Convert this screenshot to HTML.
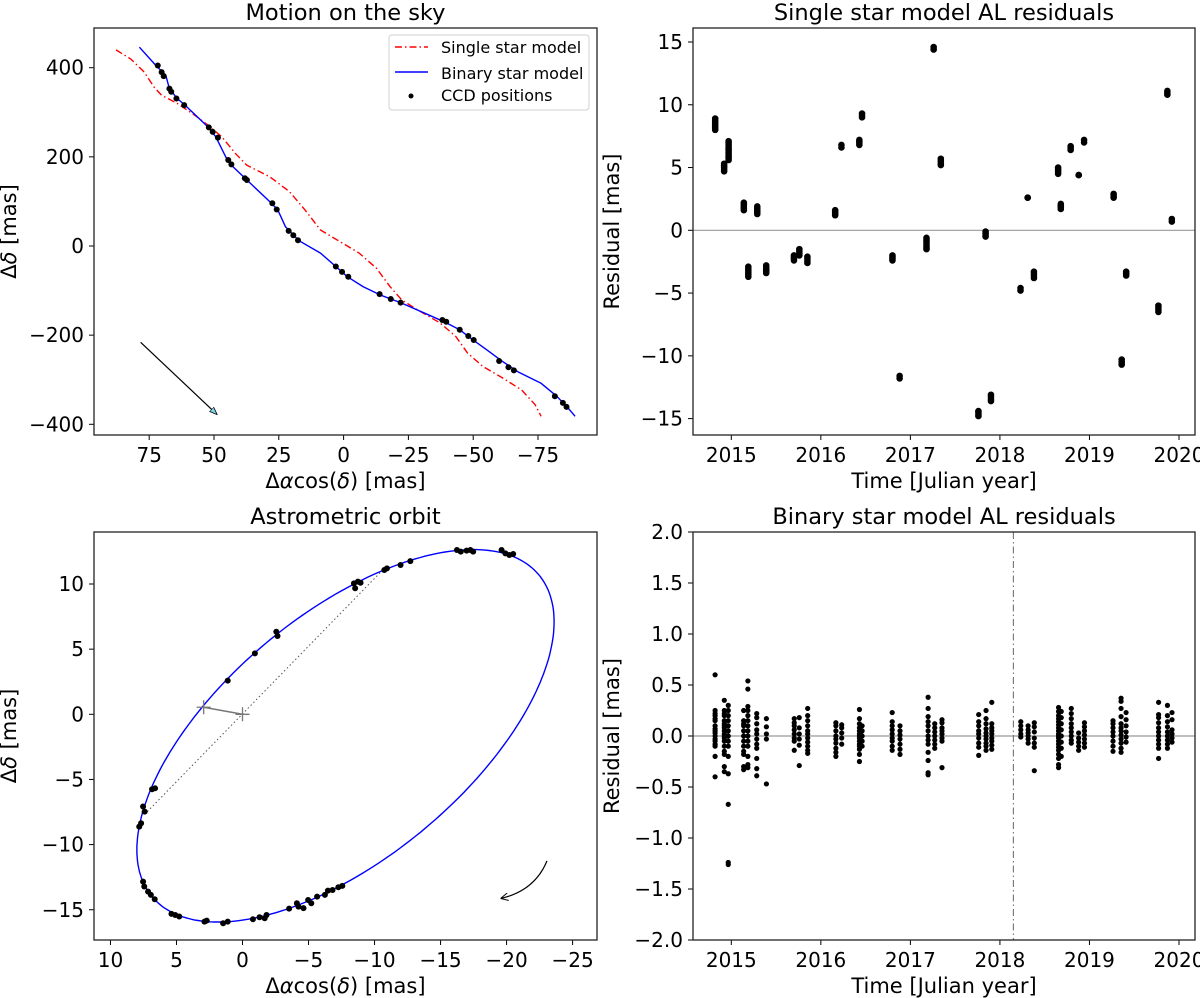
<!DOCTYPE html>
<html><head><meta charset="utf-8"><style>
html,body{margin:0;padding:0;background:#fff;}
svg{display:block;font-family:"DejaVu Sans","Liberation Sans",sans-serif;}
</style></head><body>
<svg id="fig" width="1200" height="998" viewBox="0 0 1200 998" xmlns="http://www.w3.org/2000/svg"></svg>
<script>
// ---------- Panel 1: motion on the sky (mas) ----------
const skyBinaryX=[78.8,72.4,68.6,67.2,64.2,61.2,52.3,49.3,45.5,43.3,37.3,28.4,25.4,22.4,17.2,8.9,3.0,-1.5,-7.5,-14.2,-22.4,-31.4,-38.8,-44.8,-50,-55.3,-61.3,-67.2,-76.2,-82.2,-86.7,-89.3];
const skyBinaryY=[446,405,383,353,331,316,267,245,200,181,148,99,81,43,12,-16,-46,-69,-91,-110,-128,-151,-170,-188,-211,-233,-259,-282,-308,-337,-364,-382];
const skySingleX=[87.8,82.2,76.9,73.2,70.2,64.2,58.3,52.3,47,41.8,37.3,28.4,20.9,14.9,8.9,1.5,-6.0,-12.7,-17.9,-22.4,-28.4,-37.3,-43.3,-47.8,-53.7,-61.3,-68.7,-73.9,-76.2];
const skySingleY=[440,420,390,357,338,320,297,271,245,208,181,155,122,81,36,10,-16,-50,-91,-121,-143,-173,-203,-240,-270,-296,-323,-356,-382];
const ccdX=[71.7,70.2,69.4,67.2,66.5,64.5,61.5,52.0,50.5,48.5,44.5,43.3,38.1,37.3,27.5,25.8,21.2,19.4,17.6,3.0,0.6,-1.8,-13.9,-18.2,-22.0,-38.1,-39.6,-44.8,-48.1,-50.2,-60.0,-63.6,-65.7,-81.5,-84.6,-86.0];
const ccdY=[405,390,381,353,346,331,316,266,256,243,193,183,152,148,96,82,34,24,13,-46,-58,-69,-108,-119,-127,-166,-170,-188,-202,-211,-258,-272,-279,-337,-352,-361];
const pmArrow=[78.3,-216,49,-377];
const skyXTicks=[75,50,25,0,-25,-50,-75];
const skyYTicks=[400,200,0,-200,-400];

// ---------- Panel 2: single star residuals ----------
const singleYear=[2014.82,2014.92,2014.97,2015.14,2015.19,2015.29,2015.39,2015.70,2015.76,2015.85,2016.16,2016.23,2016.43,2016.46,2016.80,2016.88,2017.18,2017.26,2017.34,2017.76,2017.84,2017.90,2018.23,2018.31,2018.38,2018.65,2018.68,2018.79,2018.88,2018.94,2019.27,2019.36,2019.41,2019.77,2019.87,2019.92];
const singleLo=[8.0,4.7,5.6,1.6,-3.7,1.3,-3.4,-2.4,-2.0,-2.6,1.2,6.6,6.8,9.0,-2.4,-11.8,-1.5,14.4,5.2,-14.8,-0.5,-13.6,-4.8,2.6,-3.8,4.5,1.7,6.4,4.4,7.0,2.6,-10.7,-3.6,-6.5,10.8,0.7];
const singleHi=[8.9,5.3,7.1,2.2,-2.9,1.9,-2.8,-2.0,-1.5,-2.1,1.6,6.8,7.2,9.3,-2.0,-11.6,-0.6,14.6,5.7,-14.4,-0.1,-13.1,-4.6,2.6,-3.3,5.0,2.1,6.7,4.4,7.2,2.9,-10.3,-3.3,-6.0,11.1,0.9];
const yearTicks=[2015,2016,2017,2018,2019,2020];
const singleYTicks=[15,10,5,0,-5,-10,-15];

// ---------- Panel 3: astrometric orbit ----------
const orbitCenter=[-7.8,-1.65];
const orbitAxisU=[15.8,-8.75];
const orbitAxisV=[0,11.3];
const orbitPtX=[-16.24,-16.53,-16.97,-17.26,-17.47,-19.62,-19.91,-20.21,-20.5,-10.74,-10.94,-11.97,-12.71,-8.44,-8.53,-8.74,-8.94,-2.56,-2.65,-0.94,1.12,6.85,6.62,7.53,7.41,7.82,7.68,7.53,7.44,7.15,6.94,6.65,5.38,5.09,4.79,2.88,2.71,1.47,1.12,-0.79,-1.29,-1.68,-1.82,-3.53,-4.12,-4.24,-4.62,-4.97,-5.21,-5.65,-6.24,-6.47,-6.82,-7.26,-7.56];
const orbitPtY=[12.61,12.48,12.56,12.61,12.48,12.61,12.35,12.23,12.30,11.07,11.20,11.46,11.76,10.05,9.67,10.18,10.10,6.34,6.01,4.68,2.58,-5.75,-5.68,-7.08,-7.47,-8.62,-8.36,-12.84,-13.22,-13.61,-13.86,-14.19,-15.32,-15.40,-15.52,-15.91,-15.83,-16.04,-15.91,-15.73,-15.58,-15.65,-15.40,-14.91,-14.50,-14.76,-14.88,-14.25,-14.50,-13.99,-13.86,-13.53,-13.48,-13.27,-13.17];
const nodeLine=[7.21,-7.47,-10.5,10.95];
const periastron=[2.94,0.54];
const orbitArrow=[-23.06,-11.25,-19.62,-14.12];
const orbitXTicks=[10,5,0,-5,-10,-15,-20,-25];
const orbitYTicks=[10,5,0,-5,-10,-15];

// ---------- Panel 4: binary residuals ----------
const binYear=[2014.819,2014.922,2014.966,2015.138,2015.185,2015.284,2015.392,2015.703,2015.759,2015.853,2016.168,2016.233,2016.431,2016.461,2016.797,2016.884,2017.198,2017.272,2017.353,2017.763,2017.845,2017.909,2018.233,2018.315,2018.384,2018.655,2018.685,2018.797,2018.879,2018.944,2019.263,2019.353,2019.409,2019.772,2019.871,2019.922];
const binVals=[
[0.6,0.25,0.22,0.2,0.17,0.15,0.1,0.07,0.05,0.03,0,-0.03,-0.05,-0.08,-0.1,-0.2,-0.4],
[0.35,0.25,0.22,0.2,0.15,0.12,0.1,0.08,0.05,0.02,0,-0.02,-0.05,-0.1,-0.15,-0.18,-0.3,-0.35],
[0.3,0.25,0.2,0.15,0.1,0.05,0,-0.05,-0.1,-0.2,-0.37,-0.67,-1.24,-1.26],
[0.25,0.15,0.12,0.1,0.05,0,-0.05,-0.1,-0.15,-0.18,-0.3,-0.33],
[0.54,0.46,0.29,0.25,0.2,0.15,0.1,0.05,0,-0.05,-0.1,-0.2,-0.28,-0.31],
[0.22,0.18,0.12,0.06,0.02,-0.03,-0.08,-0.12,-0.22,-0.32,-0.39],
[0.17,0.09,0.02,-0.03,-0.47],
[0.17,0.13,0.1,0.06,0.02,-0.02,-0.05,-0.14],
[0.18,0.08,0.02,-0.03,-0.09,-0.29],
[0.27,0.2,0.15,0.1,0.05,0.02,-0.02,-0.06,-0.1,-0.14,-0.17],
[0.13,0.1,0.05,0,-0.03,-0.07,-0.12,-0.16,-0.2],
[0.11,0.08,0.03,-0.02,-0.08],
[0.26,0.17,0.12,0.08,0.05,0.02,0,-0.02,-0.05,-0.08,-0.1,-0.13,-0.18,-0.25],
[0.1,0.05,0,-0.05,-0.1],
[0.23,0.14,0.1,0.06,0.02,-0.02,-0.05,-0.1,-0.14],
[0.1,0.05,0.01,-0.03,-0.08,-0.13,-0.18],
[0.38,0.27,0.19,0.14,0.1,0.05,0,-0.04,-0.08,-0.16,-0.24,-0.36,-0.38],
[0.12,0.08,0.04,0,-0.04,-0.08,-0.12],
[0.16,0.13,0.08,0.05,0.02,-0.02,-0.05,-0.31],
[0.21,0.14,0.1,0.05,0.02,-0.02,-0.07,-0.11,-0.19],
[0.25,0.17,0.12,0.07,0.03,0,-0.03,-0.07,-0.1,-0.14],
[0.33,0.12,0.08,0.05,0.02,-0.02,-0.05,-0.09,-0.13],
[0.14,0.1,0.06,0.02,-0.01],
[0.1,0.06,0.03,0,-0.03,-0.07],
[0.13,0.09,0.04,-0.02,-0.07,-0.11,-0.34],
[0.28,0.24,0.2,0.17,0.14,0.11,0.08,0.05,0.02,0,-0.02,-0.05,-0.08,-0.11,-0.14,-0.18,-0.22,-0.28,-0.31],
[0.24,0.18,0.12,0.06,0,-0.06,-0.12,-0.2],
[0.27,0.22,0.17,0.12,0.08,0.04,0,-0.04,-0.07],
[0.03,-0.02,-0.06,-0.1,-0.14],
[0.13,0.09,0.05,0.01,-0.03,-0.07,-0.11],
[0.15,0.12,0.08,0.04,0,-0.05,-0.1,-0.15],
[0.37,0.34,0.27,0.19,0.12,0.08,0.05,0.01,-0.03,-0.07,-0.12,-0.16],
[0.23,0.16,0.1,0.04,-0.01,-0.06],
[0.33,0.21,0.18,0.13,0.08,0.04,0,-0.04,-0.08,-0.12,-0.22],
[0.3,0.2,0.14,0.09,0.04,0,-0.04,-0.08,-0.12],
[0.23,0.16,0.06,0.02,-0.02,-0.06]];
const splitYear=[2018.15];
const binYTicks=[2.0,1.5,1.0,0.5,0.0,-0.5,-1.0,-1.5,-2.0];

// ---------- drawing ----------
const NS="http://www.w3.org/2000/svg";
const svg=document.getElementById('fig');
function mk(tag,attrs,parent){const e=document.createElementNS(NS,tag);for(const k in attrs)e.setAttribute(k,attrs[k]);(parent||svg).appendChild(e);return e;}
function lin(d0,d1,p0,p1){return v=>p0+(v-d0)*(p1-p0)/(d1-d0);}

const P1={l:94,r:597,t:28,b:435,x:lin(0,-75,343.6,538),y:lin(0,400,246,67.7)};
const P2={l:693,r:1195,t:28,b:435,x:lin(2015,2020,731.3,1179),y:lin(0,15,230.3,42)};
const P3={l:94,r:597,t:532,b:940,x:lin(0,-25,242.5,572.6),y:lin(0,10,714.3,584)};
const P4={l:693,r:1195,t:532,b:940,x:lin(2015,2020,731.3,1179),y:lin(-2,2,940,532)};

function axes(P,name,title,xt,yt,xlab,ylabHTML,fmtY){
  const g=mk('g',{});
  
  
  const ttl=mk('text',{x:(P.l+P.r)/2,y:P.t-8,'text-anchor':'middle','font-size':'22.5'},g);
  ttl.textContent=title;
  
  
  xt.forEach(v=>{const px=P.x(v);
    const tk=mk('line',{x1:px,x2:px,y1:P.b,y2:P.b+5,stroke:'#000','stroke-width':1},g);
    
    
    const tl=mk('text',{x:px,y:P.b+27,'text-anchor':'middle','font-size':'20'},g);
    tl.textContent=String(v).replace('-','\u2212');
    
    
  });
  yt.forEach(v=>{const py=P.y(v);
    const tk=mk('line',{x1:P.l-5,x2:P.l,y1:py,y2:py,stroke:'#000','stroke-width':1},g);
    
    
    const tl=mk('text',{x:P.l-10,y:py+7,'text-anchor':'end','font-size':'20'},g);
    tl.textContent=fmtY?fmtY(v):String(v).replace('-','\u2212');
    
    
  });
  const xl=mk('text',{x:(P.l+P.r)/2,y:P.b+53,'text-anchor':'middle','font-size':'21'},g);
  xl.innerHTML=xlab;
  
  
  const yx=P.l-(name.indexOf('residual')>=0?74:78);
  const yl=mk('text',{x:yx,y:(P.t+P.b)/2,'text-anchor':'middle','font-size':'21',transform:'rotate(-90 '+yx+' '+((P.t+P.b)/2)+')'},g);
  yl.innerHTML=ylabHTML;
  
  
  return g;
}
function frame(P,name){const f=mk('rect',{x:P.l,y:P.t,width:P.r-P.l,height:P.b-P.t,fill:'none',stroke:'#222','stroke-width':1.3});
  
  }
function dot(P,x,y,r,parent,nm){const c=mk('circle',{cx:P.x(x),cy:P.y(y),r:r,fill:'#000'},parent);
  
  return c;}
function poly(P,xs,ys,attrs,nm){const pts=xs.map((x,i)=>P.x(x).toFixed(1)+','+P.y(ys[i]).toFixed(1)).join(' ');
  const a=Object.assign({points:pts,fill:'none'},attrs);const e=mk('polyline',a);
  
  return e;}
mk('defs',{}).innerHTML='<marker id="ah" markerWidth="8" markerHeight="8" refX="7" refY="4" orient="auto" markerUnits="userSpaceOnUse"><path d="M0,0 L8,4 L0,8" fill="none" stroke="#000" stroke-width="1"/></marker><marker id="ah2" markerWidth="8" markerHeight="8" refX="7" refY="4" orient="auto" markerUnits="userSpaceOnUse"><path d="M0,1 L8,4 L0,7 Z" fill="#7fd4e8" stroke="#000" stroke-width="0.8"/></marker>';

const dY='\u0394<tspan font-style="italic">\u03b4</tspan> [mas]';
const dX='\u0394<tspan font-style="italic">\u03b1</tspan>cos(<tspan font-style="italic">\u03b4</tspan>) [mas]';

// Panel 1
axes(P1,'sky-motion','Motion on the sky',skyXTicks,skyYTicks,dX,dY);
poly(P1,skySingleX,skySingleY,{stroke:'#ff0000','stroke-width':1.4,'stroke-dasharray':'7,3,1.5,3','stroke-linejoin':'round'},'single-star-model-line');
poly(P1,skyBinaryX,skyBinaryY,{stroke:'#0000ff','stroke-width':1.4,'stroke-linejoin':'round'},'binary-star-model-line');
ccdX.forEach((x,i)=>dot(P1,x,ccdY[i],3,svg,'ccd-position'));
const pa=mk('line',{x1:P1.x(pmArrow[0]),y1:P1.y(pmArrow[1]),x2:P1.x(pmArrow[2]),y2:P1.y(pmArrow[3]),stroke:'#000','stroke-width':1.2,'marker-end':'url(#ah2)'});


frame(P1,'sky-motion');
const lg=mk('g',{});


mk('rect',{x:389,y:35,width:200,height:75,rx:3,fill:'#fff',stroke:'#d0d0d0','stroke-width':1},lg);
const le=[['Single star model',47],['Binary star model',73],['CCD positions',95]];
const l1=mk('line',{x1:395,x2:428,y1:47,y2:47,stroke:'#ff0000','stroke-width':1.4,'stroke-dasharray':'7,3,1.5,3'},lg);


const l2=mk('line',{x1:395,x2:428,y1:72,y2:72,stroke:'#0000ff','stroke-width':1.4},lg);


const l3=mk('circle',{cx:411,cy:96,r:2.5,fill:'#000'},lg);


le.forEach(e=>{const t=mk('text',{x:441,y:e[1]+6,'font-size':'16'},lg);t.textContent=e[0];
  
  });

// Panel 2
axes(P2,'single-residuals','Single star model AL residuals',yearTicks,singleYTicks,'Time [Julian year]','Residual [mas]');
const z2=mk('line',{x1:P2.l,x2:P2.r,y1:P2.y(0),y2:P2.y(0),stroke:'#999','stroke-width':1.2});


singleYear.forEach((yr,i)=>{const lo=singleLo[i],hi=singleHi[i];const n=Math.max(1,Math.round((hi-lo)/0.15));
  for(let k=0;k<=n;k++){dot(P2,yr,lo+(hi-lo)*k/n,3.3,svg,'single-residual-point');}});
frame(P2,'single-residuals');

// Panel 3
axes(P3,'orbit','Astrometric orbit',orbitXTicks,orbitYTicks,dX,dY);
const ex=[],ey=[];
for(let k=0;k<=240;k++){const t=2*Math.PI*k/240;ex.push(orbitCenter[0]+orbitAxisU[0]*Math.cos(t)+orbitAxisV[0]*Math.sin(t));ey.push(orbitCenter[1]+orbitAxisU[1]*Math.cos(t)+orbitAxisV[1]*Math.sin(t));}
poly(P3,ex,ey,{stroke:'#0000ff','stroke-width':1.4},'orbit-ellipse');
const nl=mk('line',{x1:P3.x(nodeLine[0]),y1:P3.y(nodeLine[1]),x2:P3.x(nodeLine[2]),y2:P3.y(nodeLine[3]),stroke:'#555','stroke-width':1,'stroke-dasharray':'1.5,2.5'});


const ps=mk('line',{x1:P3.x(periastron[0]),y1:P3.y(periastron[1]),x2:P3.x(0),y2:P3.y(0),stroke:'#777','stroke-width':1.5});


[[periastron[0],periastron[1]],[0,0]].forEach(p=>{const cx=P3.x(p[0]),cy=P3.y(p[1]);
  const cr=mk('path',{d:`M${cx-7},${cy}H${cx+7}M${cx},${cy-7}V${cy+7}`,stroke:'#777','stroke-width':1.3,fill:'none'});
  
  });
orbitPtX.forEach((x,i)=>dot(P3,x,orbitPtY[i],3,svg,'orbit-ccd-point'));
const ax0=P3.x(orbitArrow[0]),ay0=P3.y(orbitArrow[1]),ax1=P3.x(orbitArrow[2]),ay1=P3.y(orbitArrow[3]);
const oa=mk('path',{d:`M${ax0},${ay0} Q${ax0-12},${ay1-8} ${ax1},${ay1}`,stroke:'#000','stroke-width':1.2,fill:'none','marker-end':'url(#ah)'});


frame(P3,'orbit');

// Panel 4
axes(P4,'binary-residuals','Binary star model AL residuals',yearTicks,binYTicks,'Time [Julian year]','Residual [mas]',v=>v.toFixed(1).replace('-','\u2212'));
const z4=mk('line',{x1:P4.l,x2:P4.r,y1:P4.y(0),y2:P4.y(0),stroke:'#999','stroke-width':1.2});


const vl=mk('line',{x1:P4.x(splitYear[0]),x2:P4.x(splitYear[0]),y1:P4.t,y2:P4.b,stroke:'#666','stroke-width':1,'stroke-dasharray':'7,3,1.5,3'});


binYear.forEach((yr,i)=>binVals[i].forEach(v=>dot(P4,yr,v,2.6,svg,'binary-residual-point')));
frame(P4,'binary-residuals');
</script>
</body></html>
